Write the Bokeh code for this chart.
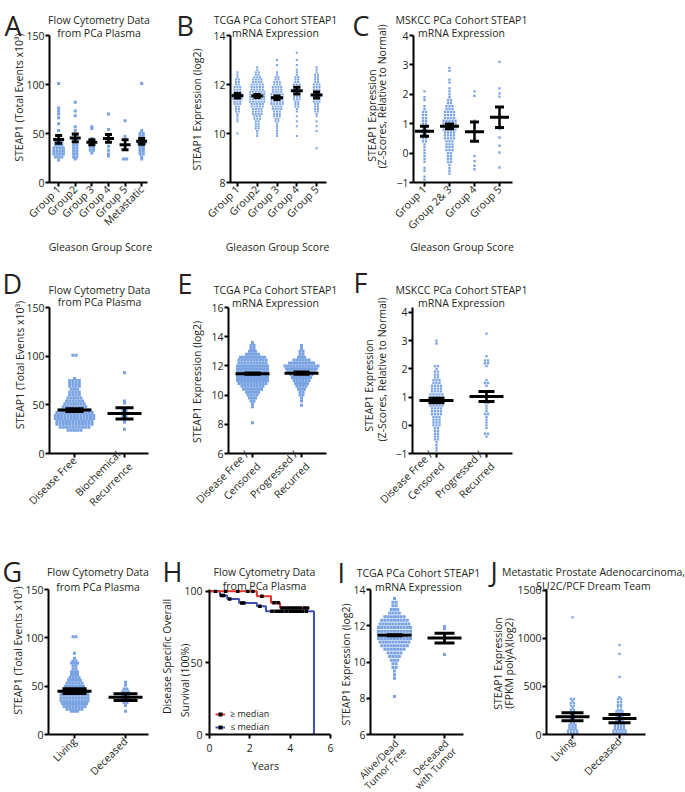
import numpy as np
from math import pi
from bokeh.plotting import figure
from bokeh.models import Range1d, FixedTicker, Legend, LegendItem
from bokeh.core.properties import value
from bokeh.layouts import row, column
from bokeh.embed import file_html
from bokeh.resources import INLINE

FONT = "Open Sans"
FS = "10.5px"
TXT = "#231F20"
DOT = "#79A3E2"
RED = "#E8312A"
BLUE = "#4150B0"

# ====================== DATA ======================
A_cats = ["Group 1", "Group2", "Group 3", "Group 4", "Group 5", "Metastatic"]
A_lv = [[101, 76, 73, 70, 66, 60, 53, 48, 44, 41, 38, 35, 32, 29, 26, 23],
        [82, 73, 68, 57, 53, 49, 45, 41, 38, 35, 32, 29, 26, 24],
        [57, 55, 45, 42, 39, 36, 33, 30],
        [70, 54, 48, 42, 37, 33, 29, 27],
        [63, 47, 35, 24],
        [101, 53, 50, 47, 44, 42, 40, 38, 36, 34, 32, 29, 26, 24]]
A_ct = [[1, 1, 1, 1, 1, 1, 1, 1, 2, 3, 3, 4, 4, 4, 3, 1],
        [1, 1, 1, 1, 1, 2, 2, 2, 2, 2, 2, 2, 2, 1],
        [1, 1, 1, 2, 2, 2, 2, 1],
        [1, 1, 1, 1, 1, 1, 1, 1],
        [1, 1, 1, 2],
        [1, 1, 2, 2, 2, 2, 3, 2, 2, 2, 2, 2, 1, 1]]
A_mean = [44, 45.5, 41, 45, 38.5, 42]
A_sem = [4, 4, 2.5, 4, 5, 3]

B_cats = ["Group 1", "Group2", "Group 3", "Group 4", "Group 5"]
B_lv = [[10.0, 10.5, 10.6, 10.7, 10.8, 10.9, 11.0, 11.1, 11.2, 11.3, 11.4, 11.5, 11.6, 11.7, 11.8, 11.9, 12.0, 12.1, 12.2, 12.3, 12.4, 12.5],
        [9.9, 10.0, 10.1, 10.2, 10.3, 10.4, 10.5, 10.6, 10.7, 10.8, 10.9, 11.0, 11.1, 11.2, 11.3, 11.4, 11.5, 11.6, 11.7, 11.8, 11.9, 12.0, 12.1, 12.2, 12.3, 12.4, 12.5, 12.6, 12.7],
        [9.9, 10.0, 10.1, 10.2, 10.3, 10.4, 10.5, 10.6, 10.7, 10.8, 10.9, 11.0, 11.1, 11.2, 11.3, 11.4, 11.5, 11.6, 11.7, 11.8, 11.9, 12.0, 12.1, 12.2, 12.3, 12.4, 12.5, 12.8, 13.0],
        [9.9, 10.3, 10.5, 10.7, 10.9, 11.0, 11.1, 11.2, 11.3, 11.4, 11.5, 11.6, 11.7, 11.8, 11.9, 12.0, 12.1, 12.2, 12.3, 12.4, 12.5, 12.6, 12.8, 13.0, 13.3],
        [9.4, 10.1, 10.3, 10.5, 10.7, 10.8, 10.9, 11.0, 11.1, 11.2, 11.3, 11.4, 11.5, 11.6, 11.7, 11.8, 11.9, 12.0, 12.1, 12.2, 12.3, 12.4, 12.5, 12.6, 12.7]]
B_ct = [[1, 1, 1, 1, 1, 2, 2, 2, 3, 3, 4, 4, 4, 3, 3, 3, 2, 2, 2, 1, 1, 1],
        [1, 1, 1, 2, 2, 2, 2, 3, 3, 4, 4, 4, 5, 5, 6, 6, 6, 6, 6, 5, 5, 5, 4, 4, 3, 2, 2, 1, 1],
        [1, 1, 1, 1, 1, 1, 2, 2, 3, 3, 3, 4, 4, 5, 5, 5, 5, 5, 4, 4, 4, 3, 3, 2, 2, 1, 1, 1, 1],
        [1, 1, 1, 1, 1, 1, 2, 2, 2, 3, 3, 3, 3, 3, 3, 3, 2, 2, 2, 1, 1, 1, 1, 1, 1],
        [1, 1, 1, 1, 1, 1, 2, 2, 2, 2, 3, 3, 3, 3, 3, 3, 3, 3, 2, 2, 2, 2, 1, 1, 1]]
B_mean = [11.54, 11.53, 11.46, 11.75, 11.57]
B_sem = [0.09, 0.06, 0.07, 0.14, 0.12]

C_cats = ["Group 1", "Group 2& 3", "Group 4", "Group 5"]
C_lv = [[2.1, 1.9, 1.8, 1.6, 1.5, 1.4, 1.3, 1.2, 1.1, 1.0, 0.9, 0.8, 0.7, 0.6, 0.5, 0.4, 0.3, 0.2, 0.1, 0.0, -0.1, -0.2, -0.3, -0.5, -0.6, -0.8, -0.9],
        [-0.7, -0.6, -0.5, -0.4, -0.3, -0.2, -0.1, 0.0, 0.1, 0.2, 0.3, 0.4, 0.5, 0.6, 0.7, 0.8, 0.9, 1.0, 1.1, 1.2, 1.3, 1.4, 1.5, 1.6, 1.7, 1.8, 1.9, 2.0, 2.1, 2.2, 2.4, 2.5, 2.8, 2.9],
        [2.1, 1.95, 1.1, 0.9, 0.7, -0.1, -0.27, -0.43, -0.55],
        [3.1, 2.2, 2.03, 1.92, 1.3, 0.82, 0.53, 0.25, 0.02, -0.49]]
C_ct = [[1, 1, 1, 1, 1, 2, 2, 2, 2, 2, 2, 2, 2, 2, 2, 2, 1, 1, 1, 1, 1, 1, 1, 1, 1, 1, 1],
        [1, 1, 1, 1, 2, 2, 2, 2, 3, 3, 3, 3, 4, 4, 4, 5, 5, 5, 5, 4, 4, 4, 3, 3, 2, 2, 1, 1, 1, 1, 1, 1, 1, 1],
        [1, 1, 1, 1, 1, 1, 1, 1, 1],
        [1, 1, 1, 1, 1, 1, 1, 1, 1, 1]]
C_mean = [0.74, 0.91, 0.73, 1.22]
C_sem = [0.17, 0.08, 0.33, 0.35]

D_cats = ["Disease Free", "Biochemical\nRecurrence"]
D_lv = [[101, 77, 75, 72, 69, 66, 63, 60, 57, 54, 51, 48, 45, 42, 39, 36, 33, 30, 27, 24],
        [83, 54, 52, 45, 42, 38, 35, 32, 25]]
D_ct = [[2, 1, 4, 4, 4, 3, 4, 4, 5, 6, 7, 8, 10, 12, 13, 13, 12, 12, 10, 5],
        [1, 1, 1, 2, 2, 2, 1, 1, 1]]
D_mean = [44.6, 41.2]
D_sem = [1.5, 5.7]

E_cats = ["Disease Free /\nCensored", "Progressed /\nRecurred"]
E_lv = [[8.1, 9.2, 9.4, 9.6, 9.8, 10.0, 10.2, 10.4, 10.6, 10.8, 11.0, 11.2, 11.4, 11.6, 11.8, 12.0, 12.2, 12.4, 12.6, 12.8, 13.0, 13.2, 13.4, 13.6],
        [9.3, 9.6, 9.8, 10.0, 10.2, 10.4, 10.6, 10.8, 11.0, 11.2, 11.4, 11.6, 11.8, 12.0, 12.2, 12.4, 12.6, 12.8, 13.0, 13.2, 13.4]]
E_ct = [[1, 1, 1, 2, 3, 4, 5, 7, 8, 10, 11, 11, 11, 11, 11, 11, 10, 10, 9, 5, 3, 2, 2, 1],
        [1, 1, 1, 2, 2, 3, 4, 5, 6, 7, 8, 10, 11, 12, 9, 6, 3, 2, 2, 1, 1]]
E_mean = [11.47, 11.5]
E_sem = [0.04, 0.08]

F_cats = ["Disease Free /\nCensored", "Progressed /\nRecurred"]
F_lv = [[-0.9, -0.8, -0.7, -0.6, -0.5, -0.4, -0.3, -0.2, -0.1, 0.0, 0.1, 0.2, 0.3, 0.4, 0.5, 0.6, 0.7, 0.8, 0.9, 1.0, 1.1, 1.2, 1.3, 1.4, 1.5, 1.6, 1.7, 1.8, 1.9, 2.0, 2.1, 2.9, 3.0],
        [3.25, 2.45, 2.3, 2.2, 2.1, 1.6, 1.5, 1.4, 1.2, 1.1, 1.0, 0.9, 0.8, 0.7, 0.6, 0.5, 0.4, 0.3, 0.2, 0.1, 0.0, -0.1, -0.3, -0.4]]
F_ct = [[1, 1, 1, 1, 2, 2, 2, 2, 2, 3, 3, 3, 3, 4, 4, 4, 5, 5, 5, 5, 5, 4, 4, 4, 3, 3, 2, 2, 2, 1, 2, 1, 1],
        [1, 1, 2, 2, 1, 1, 2, 1, 1, 1, 1, 1, 2, 1, 1, 1, 2, 1, 1, 1, 1, 1, 2, 1]]
F_mean = [0.88, 1.02]
F_sem = [0.08, 0.18]

G_cats = ["Living", "Deceased"]
G_lv = [[101, 84, 79, 76, 74, 71, 68, 65, 62, 59, 56, 53, 50, 47, 44, 41, 38, 35, 32, 29, 26, 24],
        [54, 51, 47, 44, 42, 40, 38, 36, 33, 30, 24]]
G_ct = [[2, 1, 1, 2, 3, 2, 2, 3, 3, 4, 5, 6, 7, 8, 9, 10, 10, 10, 9, 8, 6, 3],
        [1, 1, 2, 3, 3, 3, 3, 3, 2, 1, 1]]
G_mean = [44.8, 38.6]
G_sem = [2.5, 3.5]

H_red_t = [0, 2.35, 3.05, 3.5, 4.97]
H_red_s = [100, 96.5, 92, 88.3, 88.3]
H_blue_t = [0, 0.52, 0.88, 1.47, 2.35, 2.8, 5.18, 5.18]
H_blue_s = [100, 97, 94.6, 91.8, 89.5, 86, 86, 0]
H_red_cens = [0.3, 0.8, 1.4, 1.9, 2.15, 2.6, 3.2, 3.4, 3.6, 3.75, 3.9, 4.05, 4.2, 4.35, 4.5, 4.7, 4.85]
H_blue_cens = [0.6, 0.7, 1.0, 1.6, 1.7, 2.5, 3.1, 3.3, 3.45, 3.6, 3.8, 4.0, 4.15, 4.3, 4.45, 4.6, 4.8]
H_labels = ["\u2265 median", "\u2264 median"]

I_cats = [["Alive/Dead", "Tumor Free"], ["Deceased", "with Tumor"]]
I_lv = [[8.1, 9.1, 9.3, 9.5, 9.7, 9.9, 10.1, 10.3, 10.5, 10.7, 10.9, 11.1, 11.3, 11.5, 11.7, 11.9, 12.1, 12.3, 12.5, 12.7, 12.9, 13.1, 13.3, 13.5],
        [11.96, 11.83, 11.46, 11.22, 10.41]]
I_ct = [[1, 1, 1, 1, 2, 2, 3, 4, 5, 7, 9, 10, 11, 11, 11, 11, 10, 9, 7, 4, 3, 2, 2, 1],
        [1, 1, 1, 1, 1]]
I_mean = [11.48, 11.32]
I_sem = [0.03, 0.27]

J_cats = ["Living", "Deceased"]
J_lv = [[1220, 370, 350, 330, 300, 280, 260, 240, 220, 200, 180, 160, 140, 120, 100, 80, 60, 40, 20, 5],
        [930, 840, 600, 390, 370, 340, 310, 290, 260, 240, 220, 200, 180, 160, 140, 120, 100, 80, 60, 40, 20, 5]]
J_ct = [[1, 2, 1, 2, 2, 1, 2, 2, 2, 2, 2, 2, 2, 2, 3, 3, 3, 4, 4, 4],
        [1, 1, 1, 1, 2, 2, 2, 2, 2, 3, 3, 3, 3, 3, 3, 3, 4, 4, 4, 5, 5, 5]]
J_mean = [185, 166]
J_sem = [42, 43]


# ====================== GEOMETRY (page pixels) ======================
def panel(ox, oy, w, h, fl, ft, fw, fh, xr, yr):
    return dict(ox=ox, oy=oy, w=w, h=h, fl=fl, ft=ft, fw=fw, fh=fh, xr=xr, yr=yr)


PA = panel(0, 0, 174, 256, 49, 35, 98, 147, (0.45, 6.35), (0, 150))
PB = panel(174, 0, 171, 256, 56, 35, 96, 147, (0.65, 5.5), (8, 14))
PC = panel(345, 0, 340, 256, 68, 35, 99, 147, (0.56, 4.52), (-1, 4))
PD = panel(0, 256, 174, 284, 49, 51, 99, 146, (0.5, 2.48), (0, 150))
PE = panel(174, 256, 171, 284, 54, 51, 98, 146, (0.51, 2.51), (6, 16))
PF = panel(345, 256, 340, 284, 67, 51, 100, 146, (0.52, 2.52), (-1, 4.177))
PG = panel(0, 540, 160, 252, 48, 49, 100, 145, (0.49, 2.45), (0, 150))
PH = panel(160, 540, 176, 252, 49, 49, 121, 145, (0, 6), (0, 101.2))
PI = panel(336, 540, 148, 252, 34, 49, 93, 145, (0.52, 2.38), (6, 14))
PJ = panel(484, 540, 201, 252, 62, 49, 99, 145, (0.447, 2.553), (0, 1510))


def px2d(P, ix, iy):
    x0, x1 = P['xr']
    y0, y1 = P['yr']
    x = x0 + (ix - P['ox'] - P['fl']) / P['fw'] * (x1 - x0)
    y = y1 - (iy - P['oy'] - P['ft']) / P['fh'] * (y1 - y0)
    return x, y


def d2px(P, x, y):
    x0, x1 = P['xr']
    y0, y1 = P['yr']
    ix = P['ox'] + P['fl'] + (x - x0) / (x1 - x0) * P['fw']
    iy = P['oy'] + P['ft'] + (y1 - y) / (y1 - y0) * P['fh']
    return ix, iy


def txt(p, P, s, ix, iy, size=FS, align="center", baseline="alphabetic", angle=0.0):
    x, y = px2d(P, ix, iy)
    p.text(x=[x], y=[y], text=[s], text_font=value(FONT), text_font_size=value(size),
           text_color=TXT, text_align=align, text_baseline=baseline, angle=angle, level="overlay")


def make_fig(P, yticks, xticks, xlabels=None, xlab_standoff=2):
    p = figure(width=P['w'], height=P['h'], x_range=Range1d(*P['xr']), y_range=Range1d(*P['yr']),
               output_backend="svg", toolbar_location=None, tools="", title=None,
               min_border_left=P['fl'], min_border_right=P['w'] - P['fl'] - P['fw'],
               min_border_top=P['ft'], min_border_bottom=P['h'] - P['ft'] - P['fh'])
    p.outline_line_color = None
    p.grid.visible = False
    p.xaxis.ticker = FixedTicker(ticks=xticks)
    p.yaxis.ticker = FixedTicker(ticks=yticks)
    for ax in (p.xaxis, p.yaxis):
        ax.axis_line_width = 2
        ax.axis_line_color = "black"
        ax.major_tick_line_width = 2
        ax.major_tick_line_color = "black"
        ax.major_tick_out = 4
        ax.major_tick_in = 0
        ax.minor_tick_line_color = None
        ax.major_label_text_font = FONT
        ax.major_label_text_font_size = FS
        ax.major_label_text_color = TXT
    p.yaxis.major_label_standoff = 1
    p.xaxis.major_label_standoff = xlab_standoff
    if xlabels is not None:
        p.xaxis.major_label_overrides = {t: lab for t, lab in zip(xticks, xlabels)}
        p.xaxis.major_label_orientation = pi / 4
    return p


def as_list(v, n):
    return list(v) if isinstance(v, (list, tuple)) else [v] * n


def dot_panel(P, cats, lvls, cnts, means, sems, yticks, dx_px, size, hw_px, cw_px, native_labels=True):
    n = len(cats)
    ticks = list(range(1, n + 1))
    labs = cats if native_labels else [""] * n
    p = make_fig(P, yticks, ticks, xlabels=labs, xlab_standoff=1)
    ppu = P['fw'] / (P['xr'][1] - P['xr'][0])
    xs, ys = [], []
    for gi, (lv, ct) in enumerate(zip(lvls, cnts), start=1):
        for v, c in zip(lv, ct):
            for k in range(c):
                xs.append(gi + (k - (c - 1) / 2) * dx_px / ppu)
                ys.append(v)
    p.scatter(xs, ys, marker="square", size=size, fill_color=DOT, line_color=None)
    x = np.arange(1, n + 1, dtype=float)
    m = np.array(means, dtype=float)
    s = np.array(sems, dtype=float)
    hw = np.array(as_list(hw_px, n)) / ppu
    cw = np.array(as_list(cw_px, n)) / ppu
    p.segment(x0=x - hw, y0=m, x1=x + hw, y1=m, line_color="black", line_width=3)
    p.segment(x0=x, y0=m - s, x1=x, y1=m + s, line_color="black", line_width=2.5)
    p.segment(x0=x - cw, y0=m - s, x1=x + cw, y1=m - s, line_color="black", line_width=3)
    p.segment(x0=x - cw, y0=m + s, x1=x + cw, y1=m + s, line_color="black", line_width=3)
    if not native_labels:
        for i, lines in enumerate(cats, start=1):
            tx, ty = d2px(P, i, P['yr'][0])
            for j, line in enumerate(lines):
                off = j * 11 * 0.7071
                txt(p, P, line, tx - 3 + off, ty + 2 + off, size="10px", align="right",
                    baseline="top", angle=pi / 4)
    return p


def title2(p, P, l1, l2, cx, b1, b2):
    txt(p, P, l1, cx, b1)
    txt(p, P, l2, cx, b2)


def ylab(p, P, s, cx, cy):
    txt(p, P, s, cx, cy, angle=pi / 2, baseline="middle")


def letter(p, P, s, ix, iy):
    txt(p, P, s, ix, iy, size="27px", align="left")


FLOW_Y = "STEAP1 (Total Events x10\u00b3)"
LOG2_Y = "STEAP1 Expression (log2)"

# ---------------- Row 1 ----------------
pA = dot_panel(PA, A_cats, A_lv, A_ct, A_mean, A_sem, [0, 50, 100, 150], 3.2, 3, 5.5, 3.5)
letter(pA, PA, "A", 4, 25)
title2(pA, PA, "Flow Cytometry Data", "from PCa Plasma", 98.5, 19.5, 32)
ylab(pA, PA, FLOW_Y, 18.5, 97)
txt(pA, PA, "Gleason Group Score", 100, 246)

pB = dot_panel(PB, B_cats, B_lv, B_ct, B_mean, B_sem, [8, 10, 12, 14], 2.8, 2.0, 6, 3.5)
letter(pB, PB, "B", 176, 25)
title2(pB, PB, "TCGA PCa Cohort STEAP1", "mRNA Expression", 275, 19.5, 32)
ylab(pB, PB, LOG2_Y, 196.5, 109)
txt(pB, PB, "Gleason Group Score", 277, 246)

pC = dot_panel(PC, C_cats, C_lv, C_ct, C_mean, C_sem, [-1, 0, 1, 2, 3, 4], 3.0, 2.3, 9.5, 4.5)
letter(pC, PC, "C", 352, 25)
title2(pC, PC, "MSKCC PCa Cohort STEAP1", "mRNA Expression", 461, 19.5, 32)
ylab(pC, PC, "STEAP1 Expression", 371, 115)
ylab(pC, PC, "(Z-Scores, Relative to Normal)", 381, 96)
txt(pC, PC, "Gleason Group Score", 461.5, 246)

# ---------------- Row 2 ----------------
pD = dot_panel(PD, D_cats, D_lv, D_ct, D_mean, D_sem, [0, 50, 100, 150], 3.2, 3, 17, 9)
letter(pD, PD, "D", 2, 283)
title2(pD, PD, "Flow Cytometry Data", "from PCa Plasma", 99, 289, 301.5)
ylab(pD, PD, FLOW_Y, 19, 364.5)

pE = dot_panel(PE, E_cats, E_lv, E_ct, E_mean, E_sem, [6, 8, 10, 12, 14, 16], 3.0, 3, 17, 8)
letter(pE, PE, "E", 177, 283)
title2(pE, PE, "TCGA PCa Cohort STEAP1", "mRNA Expression", 275, 289, 302)
ylab(pE, PE, LOG2_Y, 196.5, 381.5)

pF = dot_panel(PF, F_cats, F_lv, F_ct, F_mean, F_sem, [-1, 0, 1, 2, 3, 4], 3.0, 2.3, 17, 8)
letter(pF, PF, "F", 353, 282)
title2(pF, PF, "MSKCC PCa Cohort STEAP1", "mRNA Expression", 461, 289, 302)
ylab(pF, PF, "STEAP1 Expression", 368, 385)
ylab(pF, PF, "(Z-Scores, Relative to Normal)", 381.5, 369)

# ---------------- Row 3 ----------------
pG = dot_panel(PG, G_cats, G_lv, G_ct, G_mean, G_sem, [0, 50, 100, 150], 3.0, 3, 17, [12, 12])
letter(pG, PG, "G", 2, 571)
title2(pG, PG, "Flow Cytometry Data", "from PCa Plasma", 97.5, 571, 586)
ylab(pG, PG, FLOW_Y, 17.5, 650)

pH = make_fig(PH, [0, 50, 100], [0, 2, 4, 6], xlab_standoff=5)
pH.yaxis.major_label_standoff = 3
rb = pH.step(H_blue_t, H_blue_s, mode="after", line_color=BLUE, line_width=2)
rr = pH.step(H_red_t, H_red_s, mode="after", line_color=RED, line_width=2)


def surv_at(ts, ss, t):
    idx = np.searchsorted(np.array(ts), np.array(t), side="right") - 1
    return list(np.array(ss)[idx])


cb = pH.scatter(H_blue_cens, surv_at(H_blue_t, H_blue_s, H_blue_cens), marker="square", size=3.5,
                fill_color="black", line_color=None)
cr = pH.scatter(H_red_cens, surv_at(H_red_t, H_red_s, H_red_cens), marker="square", size=3.5,
                fill_color="black", line_color=None)
leg = Legend(items=[LegendItem(label=H_labels[0], renderers=[rr, cr]),
                    LegendItem(label=H_labels[1], renderers=[rb, cb])],
             location=(6, 1), orientation="vertical", label_text_font=FONT, label_text_font_size="9px",
             label_text_color=TXT, glyph_width=10, glyph_height=10, label_height=10, label_standoff=5,
             spacing=0, padding=0, margin=0, border_line_color=None, background_fill_alpha=0)
pH.add_layout(leg)
letter(pH, PH, "H", 162, 571)
title2(pH, PH, "Flow Cytometry Data", "from PCa Plasma", 264, 571, 585)
ylab(pH, PH, "Disease Specific Overall", 166.5, 656)
ylab(pH, PH, "Survival (100%)", 184.5, 680)
txt(pH, PH, "Years", 265, 765)

pI = dot_panel(PI, I_cats, I_lv, I_ct, I_mean, I_sem, [6, 8, 10, 12, 14], 3.2, 3, 17, [8, 10],
               native_labels=False)
letter(pI, PI, "I", 337, 572)
title2(pI, PI, "TCGA PCa Cohort STEAP1", "mRNA Expression", 418, 572.5, 586)
ylab(pI, PI, LOG2_Y, 345, 664)

pJ = dot_panel(PJ, J_cats, J_lv, J_ct, J_mean, J_sem, [0, 500, 1000, 1500], 3.0, 2.3, 17, 11)
letter(pJ, PJ, "J", 490, 571)
title2(pJ, PJ, "Metastatic Prostate Adenocarcinoma,", "SU2C/PCF Dream Team", 593, 571.5, 585.5)
ylab(pJ, PJ, "STEAP1 Expression", 497, 663)
ylab(pJ, PJ, "(FPKM polyA)(log2)", 508.5, 663)

layout = column(row(pA, pB, pC), row(pD, pE, pF), row(pG, pH, pI, pJ))
open("out.html", "w").write(file_html(layout, INLINE))
